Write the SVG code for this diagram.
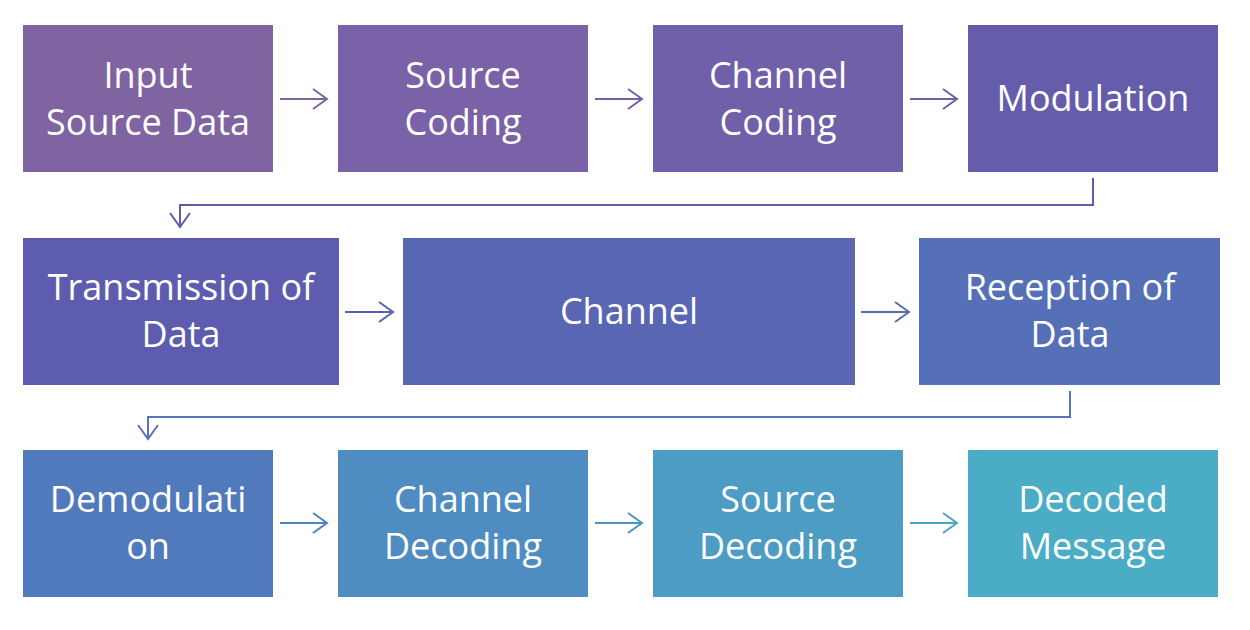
<svg xmlns="http://www.w3.org/2000/svg" width="1250" height="630" viewBox="0 0 1250 630">
<style>
text{font-family:"Open Sans","Liberation Sans",sans-serif;font-size:36px;fill:#fff;text-anchor:middle}
.c{fill:none;stroke-width:2}
</style>
<rect width="1250" height="630" fill="#fff"/>
<g id="n1"><rect x="23" y="25" width="250" height="147" fill="#8064A2"/><text x="148" y="88">Input</text><text x="148" y="135">Source Data</text></g>
<g id="n2"><rect x="338" y="25" width="250" height="147" fill="#7A62A8"/><text x="463" y="88">Source</text><text x="463" y="135">Coding</text></g>
<g id="n3"><rect x="653" y="25" width="250" height="147" fill="#7060AA"/><text x="778" y="88">Channel</text><text x="778" y="135">Coding</text></g>
<g id="n4"><rect x="968" y="25" width="250" height="147" fill="#665CAC"/><text x="1093" y="111">Modulation</text></g>
<g id="n5"><rect x="23" y="238" width="316" height="147" fill="#5D5CAE"/><text x="181" y="300">Transmission of</text><text x="181" y="347">Data</text></g>
<g id="n6"><rect x="403" y="238" width="452" height="147" fill="#5866B3"/><text x="629" y="324">Channel</text></g>
<g id="n7"><rect x="919" y="238" width="301" height="147" fill="#5670B8"/><text x="1070" y="300">Reception of</text><text x="1070" y="347">Data</text></g>
<g id="n8"><rect x="23" y="450" width="250" height="147" fill="#517ABC"/><text x="148" y="512">Demodulati</text><text x="148" y="559">on</text></g>
<g id="n9"><rect x="338" y="450" width="250" height="147" fill="#4E8CC1"/><text x="463" y="512">Channel</text><text x="463" y="559">Decoding</text></g>
<g id="n10"><rect x="653" y="450" width="250" height="147" fill="#4C9CC4"/><text x="778" y="512">Source</text><text x="778" y="559">Decoding</text></g>
<g id="n11"><rect x="968" y="450" width="250" height="147" fill="#4BACC6"/><text x="1093" y="512">Decoded</text><text x="1093" y="559">Message</text></g>
<g id="connectors">
<path class="c" stroke="#7D63A4" d="M280 99H327M313 89L327 99L313 109"/>
<path class="c" stroke="#7561A9" d="M595 99H642M628 89L642 99L628 109"/>
<path class="c" stroke="#6B5EAB" d="M910 99H957M943 89L957 99L943 109"/>
<path class="c" stroke="#615BAD" d="M1093 178V205H180V227M170 213L180 227L190 213"/>
<path class="c" stroke="#5B60B0" d="M345 312H393M379 302L393 312L379 322"/>
<path class="c" stroke="#576BB5" d="M861 312H909M895 302L909 312L895 322"/>
<path class="c" stroke="#5475BA" d="M1070 391V417H148V439M138 425L148 439L158 425"/>
<path class="c" stroke="#4F84BF" d="M280 523H327M313 513L327 523L313 533"/>
<path class="c" stroke="#4D94C3" d="M595 523H642M628 513L642 523L628 533"/>
<path class="c" stroke="#4BA4C5" d="M910 523H957M943 513L957 523L943 533"/>
</g>
</svg>
